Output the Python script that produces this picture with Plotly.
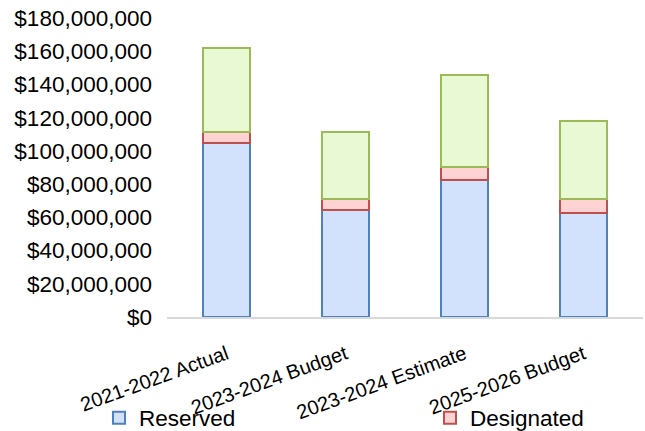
import plotly.graph_objects as go

# Fund balance by budget period (USD)
periods = ["2021-2022 Actual", "2023-2024 Budget", "2023-2024 Estimate", "2025-2026 Budget"]
reserved = [105_000_000, 64_300_000, 82_500_000, 62_500_000]
designated = [6_500_000, 6_800_000, 8_000_000, 8_800_000]
undesignated = [50_500_000, 40_200_000, 55_000_000, 46_400_000]

y_ticks = list(range(0, 180_000_001, 20_000_000))
y_tick_text = ["$0"] + [f"${v:,}" for v in y_ticks[1:]]

FONT = "Liberation Sans, Arial, sans-serif"

fig = go.Figure()
fig.add_trace(go.Bar(
    name="Reserved", x=periods, y=reserved, legend="legend",
    marker=dict(color="#D2E2FC", line=dict(color="#4F81BD", width=2)),
))
fig.add_trace(go.Bar(
    name="Designated", x=periods, y=designated, legend="legend2",
    marker=dict(color="#FFD3D3", line=dict(color="#C0504D", width=2)),
))
fig.add_trace(go.Bar(
    name="Undesignated", x=periods, y=undesignated, showlegend=False,
    marker=dict(color="#E8F9D3", line=dict(color="#9BBB59", width=2)),
))

legend_style = dict(
    orientation="h", xref="container", yref="container",
    y=13 / 431, xanchor="left", yanchor="middle",
    font=dict(size=22.5), itemwidth=30, bgcolor="rgba(0,0,0,0)",
)

fig.update_layout(
    barmode="stack",
    bargap=0.6,
    width=645, height=431,
    margin=dict(l=167, r=2, t=18, b=114, autoexpand=False),
    paper_bgcolor="white", plot_bgcolor="white",
    font=dict(family=FONT, size=22, color="#000000"),
    legend=dict(x=99 / 645, **legend_style),
    legend2=dict(x=430 / 645, **legend_style),
    xaxis=dict(
        tickangle=-20, showgrid=False, ticks="", automargin=False,
        showline=True, linecolor="#D9D9D9", linewidth=2,
        tickfont=dict(size=20), ticklabelstandoff=16,
    ),
    yaxis=dict(
        range=[0, 180_000_000], tickvals=y_ticks, ticktext=y_tick_text,
        showgrid=False, zeroline=False, showline=False, ticks="",
        automargin=False, ticklabelstandoff=14, tickfont=dict(size=22.5),
    ),
)

fig.write_html("out.html")
